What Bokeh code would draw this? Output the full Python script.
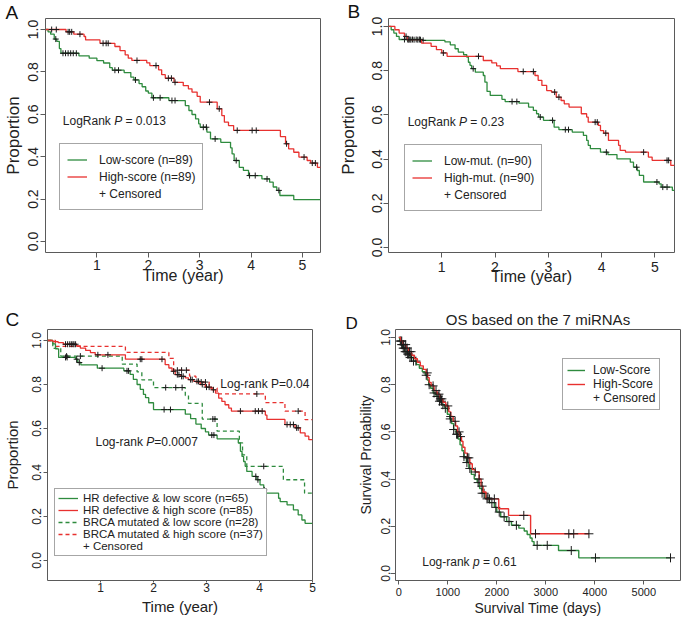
import numpy as np
from bokeh.plotting import figure
from bokeh.models import (Range1d, FixedTicker, NumeralTickFormatter, Label, Legend, LegendItem, Title)
from bokeh.layouts import column, row
from bokeh.embed import file_html
from bokeh.resources import INLINE

# ---------------- data ----------------
Y_TICKS = [0.0, 0.2, 0.4, 0.6, 0.8, 1.0]
YEAR_TICKS = [1, 2, 3, 4, 5]
DAY_TICKS = [0, 1000, 2000, 3000, 4000, 5000]

# Panel A
a_low_t = [0, 0.05, 0.10, 0.17, 0.22, 0.27, 0.30, 0.65, 0.85, 1.00, 1.13, 1.25, 1.30, 1.53, 1.66, 1.72, 1.82,
           1.88, 1.95, 2.00, 2.07, 2.40, 2.72, 2.79, 2.85, 2.92, 2.98, 3.01, 3.14, 3.21, 3.41, 3.60, 3.63, 3.67,
           3.77, 3.85, 3.95, 4.21, 4.36, 4.43, 4.50, 4.56, 4.83]
a_low_s = [1.0, 0.989, 0.978, 0.955, 0.944, 0.910, 0.888, 0.876, 0.865, 0.853, 0.842, 0.820, 0.808, 0.797, 0.775,
           0.762, 0.745, 0.730, 0.710, 0.700, 0.678, 0.665, 0.641, 0.618, 0.599, 0.578, 0.555, 0.539, 0.516, 0.484,
           0.468, 0.442, 0.413, 0.382, 0.350, 0.335, 0.311, 0.295, 0.280, 0.257, 0.241, 0.217, 0.197]
a_low_cens = [0.20, 0.34, 0.39, 0.44, 0.49, 0.54, 0.60, 1.35, 1.42, 1.75, 2.10, 2.23, 2.46, 2.52, 3.07, 3.13,
              3.30, 3.71, 3.97, 4.08, 4.31, 4.54]
a_high_t = [0, 0.40, 0.55, 0.75, 0.78, 1.06, 1.35, 1.45, 1.55, 1.61, 1.68, 1.97, 2.03, 2.20, 2.26, 2.33, 2.50,
            2.68, 2.78, 2.85, 2.95, 3.01, 3.34, 3.43, 3.48, 3.56, 3.66, 4.57, 4.67, 4.73, 4.83, 4.93, 5.09, 5.16, 5.29]
a_high_s = [1.0, 0.989, 0.978, 0.967, 0.951, 0.935, 0.920, 0.900, 0.880, 0.865, 0.854, 0.843, 0.830, 0.810, 0.787,
            0.770, 0.751, 0.735, 0.720, 0.705, 0.685, 0.657, 0.626, 0.594, 0.563, 0.547, 0.524, 0.495, 0.461, 0.437,
            0.421, 0.398, 0.382, 0.370, 0.350]
a_high_cens = [0.12, 0.21, 0.44, 0.47, 0.51, 0.67, 1.12, 1.18, 1.22, 1.78, 2.15, 2.39, 2.45, 2.52, 3.19, 3.38,
               3.73, 4.02, 4.10, 4.69, 5.03, 5.19, 5.25]
a_end = 5.35

# Panel B
b_low_t = [0, 0.05, 0.10, 0.15, 0.20, 0.63, 1.06, 1.16, 1.25, 1.31, 1.41, 1.47, 1.50, 1.53, 1.56, 1.63, 1.78,
           1.81, 1.85, 1.91, 2.13, 2.19, 2.45, 2.63, 2.72, 2.78, 2.82, 2.91, 3.11, 3.20, 3.45, 3.66, 3.72, 3.75,
           3.79, 3.98, 4.12, 4.29, 4.54, 4.60, 4.67, 4.71, 4.79, 5.08, 5.12, 5.33]
b_low_s = [1.0, 0.985, 0.970, 0.955, 0.941, 0.937, 0.930, 0.917, 0.899, 0.884, 0.872, 0.861, 0.838, 0.824, 0.809,
           0.793, 0.778, 0.748, 0.706, 0.688, 0.670, 0.660, 0.653, 0.635, 0.620, 0.605, 0.590, 0.575, 0.544, 0.533,
           0.522, 0.507, 0.484, 0.462, 0.447, 0.431, 0.420, 0.401, 0.386, 0.363, 0.348, 0.326, 0.296, 0.288, 0.273,
           0.258]
b_low_cens = [0.30, 0.36, 0.40, 0.45, 0.52, 0.58, 0.65, 1.59, 2.32, 2.41, 2.85, 3.08, 3.32, 3.38, 4.09, 4.66,
              5.04, 5.15, 5.23]
b_high_t = [0, 0.12, 0.20, 0.30, 0.35, 0.62, 0.80, 0.90, 1.00, 1.10, 1.78, 1.94, 2.03, 2.10, 2.43, 2.75, 2.81,
            2.88, 2.97, 3.06, 3.15, 3.24, 3.30, 3.39, 3.62, 3.72, 3.75, 3.94, 3.98, 4.04, 4.13, 4.32, 4.35, 4.45,
            4.88, 4.95, 5.30]
b_high_s = [1.0, 0.985, 0.970, 0.955, 0.940, 0.925, 0.910, 0.895, 0.880, 0.865, 0.846, 0.835, 0.822, 0.809, 0.796,
            0.778, 0.756, 0.733, 0.710, 0.703, 0.680, 0.665, 0.650, 0.635, 0.605, 0.590, 0.567, 0.552, 0.529, 0.517,
            0.484, 0.462, 0.439, 0.431, 0.409, 0.394, 0.371]
b_high_cens = [0.33, 0.38, 0.42, 0.48, 0.55, 0.60, 1.03, 1.69, 2.53, 2.72, 3.12, 3.20, 3.88, 3.92, 4.08, 4.79,
               5.23, 5.26]
b_end = 5.37

# Panel C
c_low_t = [0, 0.10, 0.15, 0.21, 0.53, 0.57, 0.63, 0.94, 1.44, 1.56, 1.62, 1.69, 1.75, 1.81, 1.85, 1.91, 2.00,
           2.60, 2.70, 2.80, 2.90, 2.98, 3.04, 3.20, 3.60, 3.64, 3.67, 3.70, 3.73, 3.76, 3.86, 3.95, 4.01, 4.08,
           4.11, 4.36, 4.39, 4.52, 4.64, 4.73, 4.80, 4.86]
c_low_s = [1.0, 0.985, 0.962, 0.923, 0.915, 0.900, 0.889, 0.874, 0.862, 0.846, 0.823, 0.800, 0.778, 0.755, 0.740,
           0.717, 0.686, 0.665, 0.645, 0.620, 0.600, 0.585, 0.570, 0.553, 0.534, 0.496, 0.473, 0.450, 0.428, 0.405,
           0.382, 0.367, 0.344, 0.321, 0.306, 0.283, 0.268, 0.253, 0.230, 0.207, 0.184, 0.169]
c_low_cens = [0.34, 0.37, 0.55, 0.60, 1.03, 1.50, 1.53, 2.20, 2.32, 3.10, 3.14, 3.93, 3.97, 4.09]
c_high_t = [0, 0.10, 0.20, 0.30, 0.55, 0.62, 0.72, 0.81, 0.90, 1.47, 2.22, 2.29, 2.35, 2.41, 2.51, 2.60, 2.66,
            2.76, 2.88, 2.98, 3.10, 3.17, 3.23, 3.29, 3.35, 3.42, 3.47, 4.11, 4.14, 4.48, 4.67, 4.77, 4.86, 4.93]
c_high_s = [1.0, 0.995, 0.990, 0.983, 0.976, 0.965, 0.955, 0.945, 0.935, 0.915, 0.890, 0.875, 0.860, 0.845, 0.837,
            0.830, 0.822, 0.814, 0.800, 0.788, 0.776, 0.761, 0.738, 0.723, 0.708, 0.693, 0.679, 0.661, 0.641, 0.618,
            0.603, 0.580, 0.565, 0.549]
c_high_cens = [0.34, 0.38, 0.42, 0.45, 0.48, 0.50, 0.53, 0.95, 1.14, 1.75, 1.78, 2.16, 2.38, 2.45, 2.48, 2.53,
               2.56, 2.70, 2.73, 2.82, 2.85, 2.92, 3.00, 3.05, 3.13, 3.64, 3.92, 3.98, 4.05, 4.52, 4.58, 4.64, 4.70,
               4.73]
c_brca_low_t = [0, 0.10, 0.25, 1.41, 1.69, 1.78, 2.00, 2.60, 2.66, 2.92, 3.20, 3.62, 3.68, 3.76, 4.45, 4.85]
c_brca_low_s = [1.0, 0.964, 0.929, 0.893, 0.857, 0.821, 0.786, 0.750, 0.714, 0.643, 0.588, 0.535, 0.480, 0.428,
                0.367, 0.306]
c_brca_low_cens = [0.36, 0.62, 2.23, 2.42, 2.54, 3.12, 3.16, 4.08]
c_brca_high_t = [0, 0.15, 1.47, 2.29, 2.38, 2.68, 2.80, 3.05, 3.20, 4.11, 4.48, 4.86]
c_brca_high_s = [1.0, 0.973, 0.946, 0.919, 0.865, 0.838, 0.811, 0.784, 0.757, 0.718, 0.679, 0.640]
c_brca_high_cens = [2.45, 2.53, 2.62, 2.90, 2.98, 3.95, 4.73]
c_end = 5.0

# Panel D (days)
d_low_t = [0, 20, 50, 80, 120, 170, 230, 300, 360, 420, 480, 540, 580, 610, 650, 700, 760, 820, 880, 940, 990,
           1040, 1080, 1120, 1170, 1210, 1250, 1290, 1330, 1380, 1430, 1480, 1540, 1600, 1650, 1700, 1760, 1850,
           1950, 2000, 2080, 2200, 2300, 2450, 2560, 2620, 2680, 2720, 2760, 3260, 3673]
d_low_s = [1.0, 0.985, 0.970, 0.955, 0.940, 0.930, 0.915, 0.900, 0.885, 0.870, 0.855, 0.840, 0.820, 0.800, 0.785,
           0.765, 0.750, 0.730, 0.715, 0.700, 0.675, 0.655, 0.635, 0.610, 0.590, 0.570, 0.545, 0.520, 0.495, 0.470,
           0.445, 0.420, 0.400, 0.385, 0.360, 0.340, 0.320, 0.300, 0.280, 0.260, 0.240, 0.220, 0.204, 0.192, 0.180,
           0.165, 0.150, 0.135, 0.119, 0.097, 0.066]
d_low_cens = [30, 45, 60, 70, 90, 110, 130, 150, 180, 200, 230, 260, 300, 350, 560, 620, 720, 780, 800, 830, 870,
              900, 950, 1050, 1120, 1180, 1200, 1330, 1390, 1450, 1620, 1700, 1740, 1820, 1900, 1980, 2050, 2150,
              2250, 2400, 2824, 3030, 3520, 4014, 5545]
d_low_end = 5545
d_high_t = [0, 40, 90, 150, 200, 260, 320, 380, 440, 500, 560, 590, 620, 660, 720, 780, 840, 900, 960, 1020,
            1060, 1110, 1160, 1200, 1240, 1280, 1310, 1350, 1400, 1450, 1500, 1560, 1640, 1680, 1720, 1780, 2040,
            2240, 2690]
d_high_s = [1.0, 0.985, 0.970, 0.955, 0.940, 0.925, 0.910, 0.895, 0.880, 0.865, 0.850, 0.830, 0.810, 0.795,
            0.775, 0.760, 0.740, 0.725, 0.710, 0.685, 0.665, 0.645, 0.625, 0.600, 0.580, 0.560, 0.535, 0.510, 0.490,
            0.465, 0.440, 0.430, 0.400, 0.370, 0.345, 0.316, 0.274, 0.246, 0.168]
d_high_cens = [60, 100, 140, 170, 220, 250, 580, 700, 760, 820, 850, 880, 1000, 1060, 1150, 1230, 1260, 1400,
               1430, 1560, 1640, 1700, 1800, 1850, 1950, 2551, 2790, 3470, 3570, 3880]
d_high_end = 3880

# ---------------- styling ----------------
GREEN = "#2e8b3e"
RED = "#e8312f"
TXT = "#222222"
FRAME = "#5a5a5a"
SANS = "Liberation Sans"


def make_fig(width, height, xr, yr, bl, br, bt, bb):
    p = figure(width=width, height=height, x_range=Range1d(*xr), y_range=Range1d(*yr),
               output_backend="svg", toolbar_location=None, title=None,
               min_border_left=bl, min_border_right=br, min_border_top=bt, min_border_bottom=bb)
    p.xgrid.visible = False
    p.ygrid.visible = False
    p.outline_line_color = FRAME
    p.outline_line_width = 1
    for ax in (p.xaxis[0], p.yaxis[0]):
        ax.axis_line_color = None
        ax.major_tick_line_color = FRAME
        ax.minor_tick_line_color = None
        ax.major_tick_in = 0
        ax.major_label_text_color = TXT
        ax.axis_label_text_color = TXT
        ax.axis_label_text_font_style = "normal"
    p.yaxis[0].ticker = FixedTicker(ticks=Y_TICKS)
    p.yaxis[0].formatter = NumeralTickFormatter(format="0.0")
    p.yaxis[0].major_label_orientation = "vertical"
    return p


def axis_fmt(ax, label, tick_font, tick_size, lab_font, lab_size, tick_out, std, lab_std):
    ax.axis_label = label
    ax.major_label_text_font = tick_font
    ax.major_label_text_font_size = tick_size
    ax.axis_label_text_font = lab_font
    ax.axis_label_text_font_size = lab_size
    ax.major_tick_out = tick_out
    ax.major_label_standoff = std
    ax.axis_label_standoff = lab_std


def km(p, t, s, end, cens, color, dash="solid", size=6, lw=1.3):
    xs = list(t) + [end]
    ys = list(s) + [s[-1]]
    r = p.step(xs, ys, mode="after", line_color=color, line_width=lw, line_dash=dash)
    ta = np.asarray(t, dtype=float)
    sa = np.asarray(s, dtype=float)
    cy = sa[np.searchsorted(ta, np.asarray(cens, dtype=float), side="right") - 1]
    p.scatter(cens, cy, marker="cross", size=size, line_color="#1a1a1a", line_width=1)
    return r


def add_legend(p, entries, loc, font, size, padding, label_height, glyph_width, glyph_height, standoff,
               spacing=0):
    items = [LegendItem(label=lab, renderers=[r]) for lab, r in entries]
    leg = Legend(items=items, location=loc, padding=padding, spacing=spacing, margin=0,
                 label_height=label_height, glyph_width=glyph_width, glyph_height=glyph_height,
                 label_standoff=standoff, label_text_font=font, label_text_font_size=size,
                 label_text_color=TXT, border_line_color="#4d4d4d", border_line_width=1,
                 background_fill_color="white", background_fill_alpha=1.0)
    p.add_layout(leg)


def text(p, x, y, s, font, size, style="normal", xoff=0):
    p.add_layout(Label(x=x, y=y, text=s, x_offset=xoff, text_font=font, text_font_size=size,
                       text_font_style=style, text_color=TXT, text_baseline="alphabetic", text_align="left"))


def top_title(p, s, align, offset, standoff, valign, size, color="#111111"):
    t = Title(text=s, align=align, offset=offset, vertical_align=valign, text_font=SANS,
              text_font_size=size, text_font_style="normal", text_color=color)
    try:
        t.standoff = standoff
    except Exception:
        t.standoff = 0
    p.add_layout(t, "above")


# Plots in one row share their frame's top and bottom, so both plots of a row get the same
# borders; the y ranges are chosen so that the data land where the reference puts them.

# ---------------- Panel A ----------------
pA = make_fig(335, 310, (0, 5.35), (-0.052, 1.052), 45, 15, 18, 58)
top_title(pA, "A", "left", -40, -8, "bottom", "19px")
pA.xaxis[0].ticker = FixedTicker(ticks=YEAR_TICKS)
axis_fmt(pA.xaxis[0], "Time (year)", SANS, "14px", SANS, "16px", 5, 2, -6)
axis_fmt(pA.yaxis[0], "Proportion", SANS, "14px", SANS, "17px", 5, 2, 3)
rA1 = km(pA, a_low_t, a_low_s, a_end, a_low_cens, GREEN)
rA2 = km(pA, a_high_t, a_high_s, a_end, a_high_cens, RED)
dA = pA.line([], [], line_alpha=0)
add_legend(pA, [("Low-score (n=89)", rA1), ("High-score (n=89)", rA2), ("+ Censored", dA)],
           (14, 42), SANS, "12px", 7, 17, 20, 17, 12)
text(pA, 0.337, 0.567, "LogRank", SANS, "12px")
text(pA, 0.337, 0.567, "P", SANS, "12px", "italic", 51.4)
text(pA, 0.337, 0.567, "= 0.013", SANS, "12px", "normal", 62.7)

# ---------------- Panel B ----------------
pB = make_fig(349, 310, (0, 5.37), (-0.023, 1.036), 53, 10, 18, 58)
top_title(pB, "B", "left", -41, -7, "bottom", "19px")
pB.xaxis[0].ticker = FixedTicker(ticks=YEAR_TICKS)
axis_fmt(pB.xaxis[0], "Time (year)", SANS, "14px", SANS, "16px", 5, 4, -7)
axis_fmt(pB.yaxis[0], "Proportion", SANS, "14px", SANS, "17px", 5, 1, 12)
rB1 = km(pB, b_low_t, b_low_s, b_end, b_low_cens, GREEN)
rB2 = km(pB, b_high_t, b_high_s, b_end, b_high_cens, RED)
dB = pB.line([], [], line_alpha=0)
add_legend(pB, [("Low-mut. (n=90)", rB1), ("High-mut. (n=90)", rB2), ("+ Censored", dB)],
           (16, 41), SANS, "12px", 7, 17, 20, 17, 12)
text(pB, 0.36, 0.567, "LogRank", SANS, "12px")
text(pB, 0.36, 0.567, "P", SANS, "12px", "italic", 51.4)
text(pB, 0.36, 0.567, "= 0.23", SANS, "12px", "normal", 62.7)

# ---------------- Panel C ----------------
pC = make_fig(335, 315, (0, 5.0), (-0.091, 1.05), 47, 23, 19, 45)
top_title(pC, "C", "left", -42, -5, "top", "19px")
pC.xaxis[0].ticker = FixedTicker(ticks=YEAR_TICKS)
axis_fmt(pC.xaxis[0], "Time (year)", SANS, "12px", SANS, "15px", 2, 0, 3)
axis_fmt(pC.yaxis[0], "Proportion", SANS, "12px", SANS, "15px", 4, 2, 9)
rC3 = km(pC, c_brca_low_t, c_brca_low_s, c_end, c_brca_low_cens, GREEN, "4 3")
rC4 = km(pC, c_brca_high_t, c_brca_high_s, c_end, c_brca_high_cens, RED, "4 3")
rC1 = km(pC, c_low_t, c_low_s, c_end, c_low_cens, GREEN)
rC2 = km(pC, c_high_t, c_high_s, c_end, c_high_cens, RED)
dC = pC.line([], [], line_alpha=0)
add_legend(pC, [("HR defective & low score (n=65)", rC1), ("HR defective & high score (n=85)", rC2),
                ("BRCA mutated & low score (n=28)", rC3), ("BRCA mutated & high score (n=37)", rC4),
                ("+ Censored", dC)],
           (7, 24), SANS, "11.5px", 3, 10, 20, 10, 5, -1)
text(pC, 3.26, 0.80, "Log-rank P=0.04", SANS, "12px")
text(pC, 0.906, 0.54, "Log-rank", SANS, "12px")
text(pC, 0.906, 0.54, "P", SANS, "12px", "italic", 50.7)
text(pC, 0.906, 0.54, "=0.0007", SANS, "12px", "normal", 58.7)

# ---------------- Panel D ----------------
pD = make_fig(349, 315, (-67, 5749), (-0.030, 1.034), 60, 4, 19, 45)
top_title(pD, "OS based on the 7 miRNAs", "center", 0, 0, "top", "15px", TXT)
pD.xaxis[0].ticker = FixedTicker(ticks=DAY_TICKS)
axis_fmt(pD.xaxis[0], "Survival Time (days)", SANS, "11px", SANS, "14px", 4, 3, 1)
axis_fmt(pD.yaxis[0], "Survival Probability", SANS, "12px", SANS, "14px", 5, 0, 5)
rD1 = km(pD, d_low_t, d_low_s, d_low_end, d_low_cens, GREEN, size=9, lw=1.4)
rD2 = km(pD, d_high_t, d_high_s, d_high_end, d_high_cens, RED, size=9, lw=1.4)
dD = pD.line([], [], line_alpha=0)
add_legend(pD, [("Low-Score", rD1), ("High-Score", rD2), ("+ Censored", dD)],
           (167, 170), SANS, "12px", 4, 14, 18, 14, 8)
text(pD, 478, 0.048, "Log-rank", SANS, "12px")
text(pD, 478, 0.048, "p", SANS, "12px", "italic", 50.7)
text(pD, 478, 0.048, "= 0.61", SANS, "12px", "normal", 60.7)
# panel letter D: a label in the left side panel so it is not clipped to the frame
pD.add_layout(Label(x=-1088, y=1.059, text="D", text_font=SANS, text_font_size="17px",
                    text_color="#111111", text_baseline="alphabetic", text_align="left"), "left")

layout = column(row(pA, pB), row(pC, pD))
open("out.html", "w").write(file_html(layout, INLINE))
